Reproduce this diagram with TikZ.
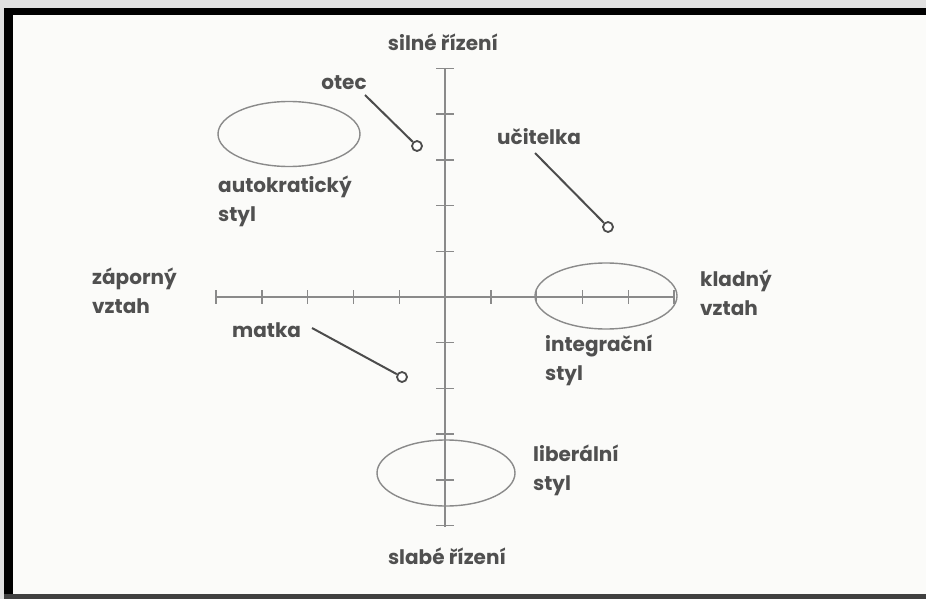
\documentclass[tikz,border=0pt]{standalone}
\usepackage{fontspec}
\setmainfont{Poppins}
\usetikzlibrary{shapes.geometric,calc}
\definecolor{linegray}{HTML}{8A8A8A}
\definecolor{txtgray}{HTML}{505050}
\definecolor{bg}{HTML}{FBFBF9}
\tikzset{
  lbl/.style={inner sep=0pt, text=txtgray, font=\bfseries\fontsize{20}{29}\selectfont, align=left},
  axis/.style={draw=linegray, line width=1.8pt},
  tick/.style={draw=linegray, line width=1.4pt},
  oval/.style={ellipse, draw=linegray, line width=1.4pt, inner sep=0pt},
  leader/.style={draw=black!70, line width=2pt},
  dot/.style={circle, draw=black!70, line width=1.8pt, fill=white, minimum size=10pt, inner sep=0pt}
}
\begin{document}
\begin{tikzpicture}[x=1pt,y=-1pt]
\useasboundingbox (0,0) rectangle (926,599);
% background and frame
\fill[black!12] (0,0) rectangle (926,599);
\fill[bg] (4,8) rectangle (926,599);
\fill[black] (4,8) rectangle (926,15);
\fill[black] (4,8) rectangle (13,599);
\fill[black!75] (4,594) rectangle (926,599);
% axes
\coordinate (O) at (445,297);
\coordinate (ytop) at (445,69);
\coordinate (ybot) at (445,527);
\coordinate (xleft) at (215,297);
\coordinate (xright) at (673,297);
\draw[axis] (ytop) -- (ybot);
\draw[axis] (xleft) -- (xright);
\foreach \k in {-5,...,-1,1,2,...,5} {
  \draw[tick] ($(O)+(\k*45.8,-7)$) -- ($(O)+(\k*45.8,7)$);
  \draw[tick] ($(O)+(-9,\k*45.7)$) -- ($(O)+(9,\k*45.7)$);
}
% ellipses
\node[oval, minimum width=142pt, minimum height=65pt] (autoell) at (289,134) {};
\node[oval, minimum width=142pt, minimum height=66pt] (intell) at (606,296) {};
\node[oval, minimum width=138pt, minimum height=66pt] (libell) at (446,473) {};
% axis labels
\node[lbl] (silne) at (443,42) {silné řízení};
\node[lbl] (slabe) at (447,556) {slabé řízení};
\node[lbl, anchor=north west] (zap) at (92,268) {záporný\\vztah};
\node[lbl, anchor=north west] (klad) at (700,270) {kladný\\vztah};
% style labels
\node[lbl, anchor=north west] (autol) at (218,176) {autokratický\\styl};
\node[lbl, anchor=north west] (intl) at (545,335) {integrační\\styl};
\node[lbl, anchor=north west] (libl) at (533,445) {liberální\\styl};
% persons
\node[lbl] (otec) at (344,83) {otec};
\node[lbl, anchor=west] (ucit) at (497,137) {učitelka};
\node[lbl, anchor=west] (matka) at (232,330) {matka};
\node[dot] (otecdot) at (417,146) {};
\node[dot] (ucitdot) at (608,227) {};
\node[dot] (matkadot) at (402,377) {};
\coordinate (otecend) at (365,95);
\coordinate (ucitend) at (535,153);
\coordinate (matkaend) at (312,328);
\draw[leader] (otecend) -- (otecdot);
\draw[leader] (ucitend) -- (ucitdot);
\draw[leader] (matkaend) -- (matkadot);
\end{tikzpicture}
\end{document}
